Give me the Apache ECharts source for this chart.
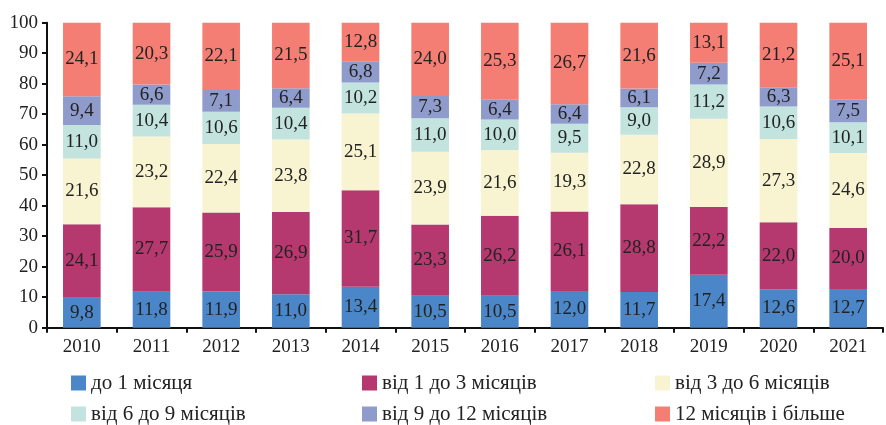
<!DOCTYPE html>
<html><head><meta charset="utf-8">
<script src="https://cdn.jsdelivr.net/npm/echarts@6/dist/echarts.min.js"></script>
<style>html,body{margin:0;padding:0;background:#fff}#c{width:886px;height:425px}</style>
</head><body><div id="c"></div>
<script>
const years = ['2010','2011','2012','2013','2014','2015','2016','2017','2018','2019','2020','2021'];
const seriesNames = ['до 1 місяця','від 1 до 3 місяців','від 3 до 6 місяців','від 6 до 9 місяців','від 9 до 12 місяців','12 місяців і більше'];
const upTo1 = [9.8,11.8,11.9,11.0,13.4,10.5,10.5,12.0,11.7,17.4,12.6,12.7];
const from1to3 = [24.1,27.7,25.9,26.9,31.7,23.3,26.2,26.1,28.8,22.2,22.0,20.0];
const from3to6 = [21.6,23.2,22.4,23.8,25.1,23.9,21.6,19.3,22.8,28.9,27.3,24.6];
const from6to9 = [11.0,10.4,10.6,10.4,10.2,11.0,10.0,9.5,9.0,11.2,10.6,10.1];
const from9to12 = [9.4,6.6,7.1,6.4,6.8,7.3,6.4,6.4,6.1,7.2,6.3,7.5];
const over12 = [24.1,20.3,22.1,21.5,12.8,24.0,25.3,26.7,21.6,13.1,21.2,25.1];
const colors = ['#4A86C8','#B5386F','#F8F3D0','#C2E3DE','#8F9CCB','#F47E74'];
const allData = [upTo1,from1to3,from3to6,from6to9,from9to12,over12];
const font = 'Liberation Serif';
const chart = echarts.init(document.getElementById('c'));
const series = allData.map((d,i)=>({
  name: seriesNames[i], type:'bar', stack:'s', data:d, barWidth:'54%',
  itemStyle:{color:colors[i]},
  label:{show:true, position:'inside', color:'#222', fontFamily:font, fontSize:19,
    formatter:p=>p.value.toFixed(1).replace('.',',')}
}));
const legendBase = {orient:'vertical', itemWidth:15, itemHeight:15, itemGap:7, itemTextGap:7, height:120, width:260,
  textStyle:{fontFamily:font, fontSize:21, color:'#222', lineHeight:24}, icon:'rect', selectedMode:false, padding:0};
chart.setOption({
  animation:false,
  color:colors,
  grid:{left:47, right:3, top:22.7, bottom:97.3},
  legend:[
    Object.assign({}, legendBase, {left:71, top:371, data:[seriesNames[0],seriesNames[3]]}),
    Object.assign({}, legendBase, {left:362, top:371, data:[seriesNames[1],seriesNames[4]]}),
    Object.assign({}, legendBase, {left:655, top:371, data:[seriesNames[2],seriesNames[5]]})
  ],
  xAxis:{type:'category', data:years,
    axisLine:{lineStyle:{color:'#111', width:2}},
    axisTick:{show:true, length:5, lineStyle:{color:'#111', width:2}},
    axisLabel:{fontFamily:font, fontSize:19, color:'#222', margin:10}},
  yAxis:{type:'value', min:0, max:100, interval:10,
    axisLine:{show:true, lineStyle:{color:'#111', width:2}},
    axisTick:{show:true, length:5, lineStyle:{color:'#111', width:2}},
    splitLine:{show:false},
    axisLabel:{fontFamily:font, fontSize:19, color:'#222', margin:9}},
  series:series
});
</script></body></html>
